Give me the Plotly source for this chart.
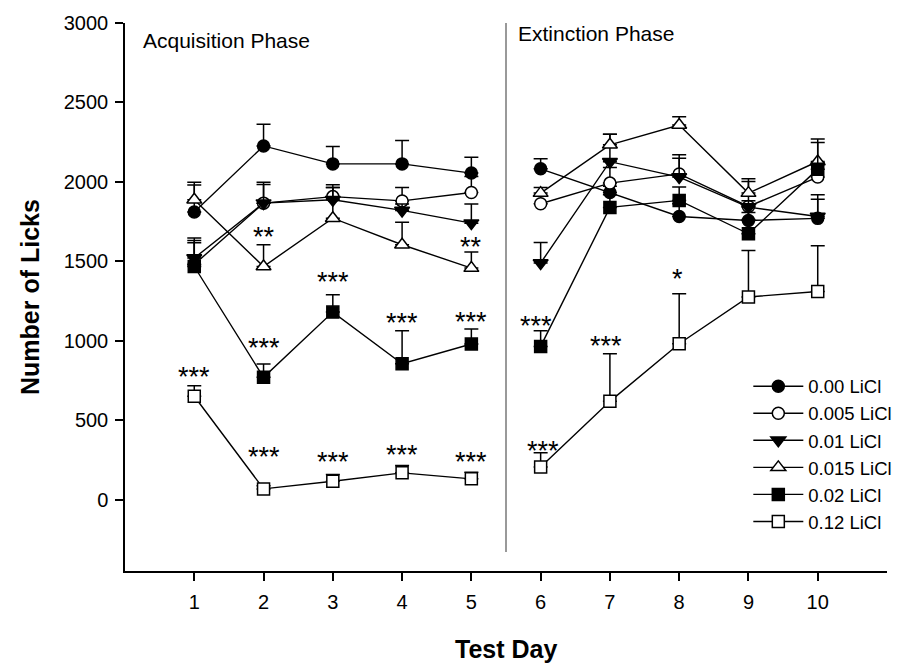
import plotly.graph_objects as go

# Test days
days = [1, 2, 3, 4, 5, 6, 7, 8, 9, 10]

# Mean number of licks per group (days 1-5 acquisition, 6-10 extinction)
licl_000 = [1810, 2226, 2113, 2113, 2055, 2082, 1933, 1782, 1757, 1770]
licl_0005 = [1480, 1866, 1907, 1880, 1933, 1862, 1992, 2050, 1845, 2030]
licl_001 = [1520, 1866, 1887, 1820, 1740, 1489, 2127, 2030, 1841, 1782]
licl_0015 = [1887, 1467, 1771, 1604, 1457, 1929, 2233, 2358, 1929, 2128]
licl_002 = [1467, 769, 1180, 855, 979, 964, 1839, 1883, 1673, 2080]
licl_012 = [650, 67, 115, 168, 130, 205, 618, 981, 1275, 1310]

# Upper SEM for each group
sem_000 = [170, 137, 109, 147, 100, 63, 40, 80, 50, 121]
sem_0005 = [151, 132, 74, 84, 100, 50, 98, 120, 157, 90]
sem_001 = [126, 117, 77, 40, 120, 129, 173, 119, 40, 136]
sem_0015 = [111, 137, 193, 142, 101, 35, 67, 52, 90, 142]
sem_002 = [150, 84, 109, 208, 95, 99, 80, 84, 90, 167]
sem_012 = [67, 20, 42, 46, 42, 89, 300, 315, 293, 288]

group_names = ["0.00 LiCl", "0.005 LiCl", "0.01 LiCl", "0.015 LiCl", "0.02 LiCl", "0.12 LiCl"]

# Significance marks: (day, licks, label)
sig_marks = [
    (2, 1688, "**"), (5, 1625, "**"),
    (1, 807, "***"), (2, 989, "***"), (3, 1405, "***"), (4, 1147, "***"), (5, 1157, "***"),
    (2, 304, "***"), (3, 272, "***"), (4, 319, "***"), (5, 272, "***"),
    (5.93, 1132, "***"), (6.03, 342, "***"), (6.95, 1006, "***"), (7.97, 1426, "*"),
]

y_ticks = [0, 500, 1000, 1500, 2000, 2500, 3000]
phase_boundary = 5.5

FONT = "Arial, 'Liberation Sans', sans-serif"

styles = [
    dict(symbol="circle", color="black", size=12),
    dict(symbol="circle", color="white", size=12),
    dict(symbol="triangle-down", color="black", size=13),
    dict(symbol="triangle-up", color="white", size=13),
    dict(symbol="square", color="black", size=12),
    dict(symbol="square", color="white", size=12),
]

series = [licl_000, licl_0005, licl_001, licl_0015, licl_002, licl_012]
sems = [sem_000, sem_0005, sem_001, sem_0015, sem_002, sem_012]

fig = go.Figure()
for i, (name, vals, err, st) in enumerate(zip(group_names, series, sems, styles)):
    # acquisition and extinction phases are drawn as separate, unconnected segments
    for seg in (slice(0, 5), slice(5, 10)):
        first = seg.start == 0
        fig.add_trace(go.Scatter(
            x=days[seg], y=vals[seg],
            mode="lines+markers",
            name=name,
            legendgroup=f"g{i}",
            showlegend=first,
            line=dict(color="black", width=1.4),
            marker=dict(symbol=st["symbol"], size=st["size"], color=st["color"],
                        line=dict(color="black", width=1.5)),
            error_y=dict(type="data", symmetric=False, array=err[seg],
                         arrayminus=[0] * 5, color="black", thickness=1.5, width=7),
        ))

for d, v, t in sig_marks:
    fig.add_annotation(x=d, y=v, text=t, showarrow=False, xanchor="center",
                       yanchor="middle", yshift=-6,
                       font=dict(family=FONT, size=27, color="black"))

fig.add_annotation(x=0.23, y=2888, text="Acquisition Phase", showarrow=False,
                   xanchor="left", yanchor="middle",
                   font=dict(family=FONT, size=21, color="black"))
fig.add_annotation(x=5.65, y=2931, text="Extinction Phase", showarrow=False,
                   xanchor="left", yanchor="middle",
                   font=dict(family=FONT, size=21, color="black"))

# axis titles
fig.add_annotation(x=0.5, y=-0.142, xref="paper", yref="paper", text="<b>Test Day</b>",
                   showarrow=False, xanchor="center", yanchor="middle",
                   font=dict(family=FONT, size=25, color="black"))
fig.add_annotation(x=-0.1247, y=0.5, xref="paper", yref="paper",
                   text="<b>Number of Licks</b>", textangle=-90,
                   showarrow=False, xanchor="center", yanchor="middle",
                   font=dict(family=FONT, size=25, color="black"))

fig.add_shape(type="line", x0=phase_boundary, x1=phase_boundary, y0=-330, y1=3000,
              xref="x", yref="y", line=dict(color="#777777", width=1.5))

fig.update_layout(
    width=916, height=663,
    margin=dict(l=125, r=29, t=23, b=92),
    plot_bgcolor="white", paper_bgcolor="white",
    font=dict(family=FONT, size=20, color="black"),
    showlegend=True,
    legend=dict(x=0.818, y=0.371, xanchor="left", yanchor="top",
                font=dict(family=FONT, size=18.5, color="black"),
                bgcolor="rgba(0,0,0,0)", tracegroupgap=0, itemwidth=50,
                traceorder="normal"),
    xaxis=dict(range=[0, 11], tickvals=days, ticks="outside", ticklen=8,
               tickwidth=1.5, tickcolor="black", showline=True, linecolor="black",
               linewidth=1.5, showgrid=False, zeroline=False, ticklabelstandoff=4,
               automargin=False),
    yaxis=dict(range=[-450, 3000], tickvals=y_ticks, ticks="outside", ticklen=8,
               tickwidth=1.5, tickcolor="black", showline=True, linecolor="black",
               linewidth=1.5, showgrid=False, zeroline=False, ticklabelstandoff=3,
               automargin=False),
)

fig.write_html("out.html")
